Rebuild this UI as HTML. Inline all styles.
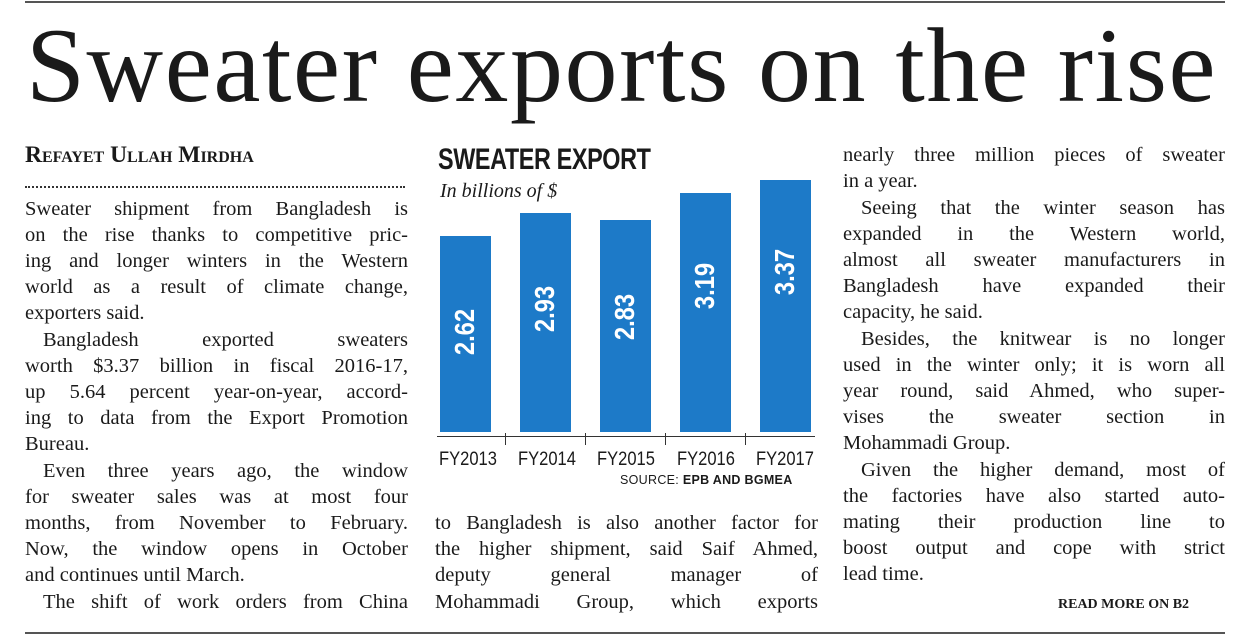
<!DOCTYPE html>
<html><head><meta charset="utf-8"><style>
body{margin:0;width:1244px;height:638px;background:#fff;position:relative;overflow:hidden;font-family:"Liberation Serif",serif;color:#1a1a1a}
.l{position:absolute;font-size:20.5px;line-height:24px;white-space:nowrap;text-align:justify;text-align-last:justify}
.n{text-align-last:left}
.i{text-indent:18px}
.c1 .l{left:25px;width:383px}
.c2 .l{left:435px;width:383px}
.c3 .l{left:843px;width:382px}
.bar{position:absolute;background:#1d7ac8;width:51px}
.v{position:absolute;color:#fff;font-family:"Liberation Sans",sans-serif;font-weight:bold;font-size:28px;transform:rotate(-90deg) scaleX(0.85);transform-origin:center;width:70px;text-align:center}
.fy{position:absolute;top:449px;font-family:"Liberation Sans",sans-serif;font-size:19px;transform:scaleX(0.87);transform-origin:left}
.tk{position:absolute;top:433px;width:1px;height:12px;background:#333}
</style></head><body>
<div style="position:absolute;left:25px;top:1px;width:1200px;height:2px;background:#555"></div>
<div style="position:absolute;left:25px;top:632px;width:1200px;height:2px;background:#555"></div>
<div style="position:absolute;left:26px;top:4px;font-size:106px;line-height:124px;letter-spacing:1.6px;white-space:nowrap">Sweater exports on the rise</div>
<div style="position:absolute;left:25px;top:142px;font-size:23.5px;font-weight:bold;font-variant:small-caps;white-space:nowrap">Refayet Ullah Mirdha</div>
<div style="position:absolute;left:25px;top:186px;width:380px;border-top:2px dotted #333"></div>
<div class="c1">
<div class="l" style="top:197px">Sweater shipment from Bangladesh is</div>
<div class="l" style="top:223px">on the rise thanks to competitive pric-</div>
<div class="l" style="top:249px">ing and longer winters in the Western</div>
<div class="l" style="top:275px">world as a result of climate change,</div>
<div class="l n" style="top:301px">exporters said.</div>
<div class="l i" style="top:328px">Bangladesh exported sweaters</div>
<div class="l" style="top:354px">worth $3.37 billion in fiscal 2016-17,</div>
<div class="l" style="top:380px">up 5.64 percent year-on-year, accord-</div>
<div class="l" style="top:406px">ing to data from the Export Promotion</div>
<div class="l n" style="top:432px">Bureau.</div>
<div class="l i" style="top:459px">Even three years ago, the window</div>
<div class="l" style="top:485px">for sweater sales was at most four</div>
<div class="l" style="top:511px">months, from November to February.</div>
<div class="l" style="top:537px">Now, the window opens in October</div>
<div class="l n" style="top:563px">and continues until March.</div>
<div class="l i" style="top:590px">The shift of work orders from China</div>
</div>
<div style="position:absolute;left:438px;top:143px;font-family:'Liberation Sans',sans-serif;font-weight:bold;font-size:30px;letter-spacing:-0.5px;transform:scaleX(0.78);transform-origin:left;white-space:nowrap">SWEATER EXPORT</div>
<div style="position:absolute;left:440px;top:180px;font-style:italic;font-size:20px">In billions of $</div>
<div class="bar" style="left:440px;top:236px;height:196px"></div>
<div class="bar" style="left:520px;top:213px;height:219px"></div>
<div class="bar" style="left:600px;top:220px;height:212px"></div>
<div class="bar" style="left:680px;top:193px;height:239px"></div>
<div class="bar" style="left:760px;top:180px;height:252px"></div>
<div class="v" style="left:430px;top:316px">2.62</div>
<div class="v" style="left:510px;top:293px">2.93</div>
<div class="v" style="left:590px;top:301px">2.83</div>
<div class="v" style="left:670px;top:270px">3.19</div>
<div class="v" style="left:750px;top:256px">3.37</div>
<div style="position:absolute;left:437px;top:436px;width:378px;height:1px;background:#333"></div>
<div class="tk" style="left:505px"></div><div class="tk" style="left:585px"></div><div class="tk" style="left:665px"></div><div class="tk" style="left:745px"></div>
<div class="fy" style="left:439px">FY2013</div>
<div class="fy" style="left:518px">FY2014</div>
<div class="fy" style="left:597px">FY2015</div>
<div class="fy" style="left:677px">FY2016</div>
<div class="fy" style="left:756px">FY2017</div>
<div style="position:absolute;left:620px;top:473px;font-family:'Liberation Sans',sans-serif;font-size:12.5px;letter-spacing:0.3px;white-space:nowrap">SOURCE: <b>EPB AND BGMEA</b></div>
<div class="c2">
<div class="l" style="top:511px">to Bangladesh is also another factor for</div>
<div class="l" style="top:537px">the higher shipment, said Saif Ahmed,</div>
<div class="l" style="top:563px">deputy general manager of</div>
<div class="l" style="top:590px">Mohammadi Group, which exports</div>
</div>
<div class="c3">
<div class="l" style="top:143px">nearly three million pieces of sweater</div>
<div class="l n" style="top:169px">in a year.</div>
<div class="l i" style="top:196px">Seeing that the winter season has</div>
<div class="l" style="top:222px">expanded in the Western world,</div>
<div class="l" style="top:248px">almost all sweater manufacturers in</div>
<div class="l" style="top:274px">Bangladesh have expanded their</div>
<div class="l n" style="top:300px">capacity, he said.</div>
<div class="l i" style="top:327px">Besides, the knitwear is no longer</div>
<div class="l" style="top:353px">used in the winter only; it is worn all</div>
<div class="l" style="top:379px">year round, said Ahmed, who super-</div>
<div class="l" style="top:405px">vises the sweater section in</div>
<div class="l n" style="top:431px">Mohammadi Group.</div>
<div class="l i" style="top:458px">Given the higher demand, most of</div>
<div class="l" style="top:484px">the factories have also started auto-</div>
<div class="l" style="top:510px">mating their production line to</div>
<div class="l" style="top:536px">boost output and cope with strict</div>
<div class="l n" style="top:562px">lead time.</div>
</div>
<div style="position:absolute;left:1058px;top:597px;font-size:14px;font-weight:bold;white-space:nowrap">READ MORE ON B2</div>
</body></html>
